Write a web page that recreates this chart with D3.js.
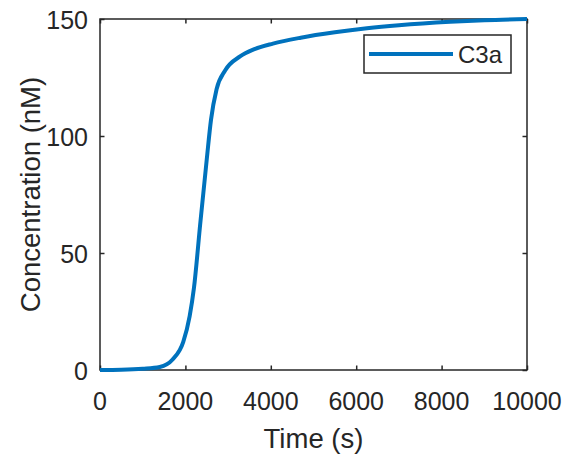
<!DOCTYPE html>
<html>
<head>
<meta charset="utf-8">
<script src="https://cdn.jsdelivr.net/npm/d3@7"></script>
<style>
  body { margin: 0; background: #fff; }
  text { font-family: "Liberation Sans", Arial, Helvetica, sans-serif; fill: #262626; }
</style>
</head>
<body>
<svg id="chart" width="572" height="458"></svg>
<script>
// C3a concentration over time
const timeS = [0, 500, 1000, 1400, 1700, 1950, 2100, 2200, 2350, 2500, 2600, 2730, 2930, 3280, 3600, 4050, 4700, 5500, 6250, 7000, 8200, 9000, 10000]
const c3a   = [0, 0.1, 0.5, 1.3, 4.5, 12, 23, 35, 63, 90, 107, 120, 128, 134, 137, 139.5, 142, 144.3, 146, 147.3, 148.8, 149.5, 150]
const xTicks = [0, 2000, 4000, 6000, 8000, 10000]
const yTicks = [0, 50, 100, 150]
const seriesName = "C3a"

const svg = d3.select('#chart')
const plotL = 100, plotR = 527, plotT = 19, plotB = 370
const ink = '#262626'
const blue = '#0072BD'

const x = d3.scaleLinear().domain([0, 10000]).range([plotL, plotR])
const y = d3.scaleLinear().domain([0, 150]).range([plotB, plotT])

// box
svg.append('rect')
    .attr('x', plotL).attr('y', plotT)
    .attr('width', plotR - plotL).attr('height', plotB - plotT)
    .attr('fill', 'none').attr('stroke', ink).attr('stroke-width', 1.5)

// inward ticks on all sides, matlab style
const tl = 4.5
svg.append('g').attr('transform', `translate(0,${plotB})`)
    .call(d3.axisBottom(x).tickValues(xTicks).tickSizeInner(-tl).tickSizeOuter(0).tickFormat(''))
svg.append('g').attr('transform', `translate(0,${plotT})`)
    .call(d3.axisTop(x).tickValues(xTicks).tickSizeInner(-tl).tickSizeOuter(0).tickFormat(''))
svg.append('g').attr('transform', `translate(${plotL},0)`)
    .call(d3.axisLeft(y).tickValues(yTicks).tickSizeInner(-tl).tickSizeOuter(0).tickFormat(''))
svg.append('g').attr('transform', `translate(${plotR},0)`)
    .call(d3.axisRight(y).tickValues(yTicks).tickSizeInner(-tl).tickSizeOuter(0).tickFormat(''))
svg.selectAll('.domain').remove()
svg.selectAll('.tick line').attr('stroke', ink).attr('stroke-width', 1.5)

// tick labels
svg.append('g').selectAll('text')
    .data(xTicks).enter().append('text')
    .attr('x', d => x(d)).attr('y', 410)
    .attr('text-anchor', 'middle').attr('font-size', 25)
    .text(d => d)
svg.append('g').selectAll('text')
    .data(yTicks).enter().append('text')
    .attr('x', 88).attr('y', d => y(d) + 10)
    .attr('text-anchor', 'end').attr('font-size', 25)
    .text(d => d)

// axis labels
svg.append('text')
    .attr('x', (plotL + plotR) / 2).attr('y', 448)
    .attr('text-anchor', 'middle').attr('font-size', 27.5)
    .text('Time (s)')
svg.append('text')
    .attr('transform', `translate(40,${(plotT + plotB) / 2}) rotate(-90)`)
    .attr('text-anchor', 'middle').attr('font-size', 27.5)
    .text('Concentration (nM)')

// the curve
const line = d3.line()
    .x((d, i) => x(timeS[i]))
    .y(d => y(d))
    .curve(d3.curveMonotoneX)

svg.append('path')
    .datum(c3a)
    .attr('d', line)
    .attr('fill', 'none')
    .attr('stroke', blue)
    .attr('stroke-width', 4)
    .attr('stroke-linejoin', 'round')

// legend
const lg = svg.append('g')
lg.append('rect')
    .attr('x', 364).attr('y', 35).attr('width', 147).attr('height', 38)
    .attr('fill', '#fff').attr('stroke', ink).attr('stroke-width', 1.5)
lg.append('line')
    .attr('x1', 369).attr('x2', 453).attr('y1', 54).attr('y2', 54)
    .attr('stroke', blue).attr('stroke-width', 4)
lg.append('text')
    .attr('x', 458).attr('y', 63)
    .attr('font-size', 24)
    .text(seriesName)
</script>
</body>
</html>
